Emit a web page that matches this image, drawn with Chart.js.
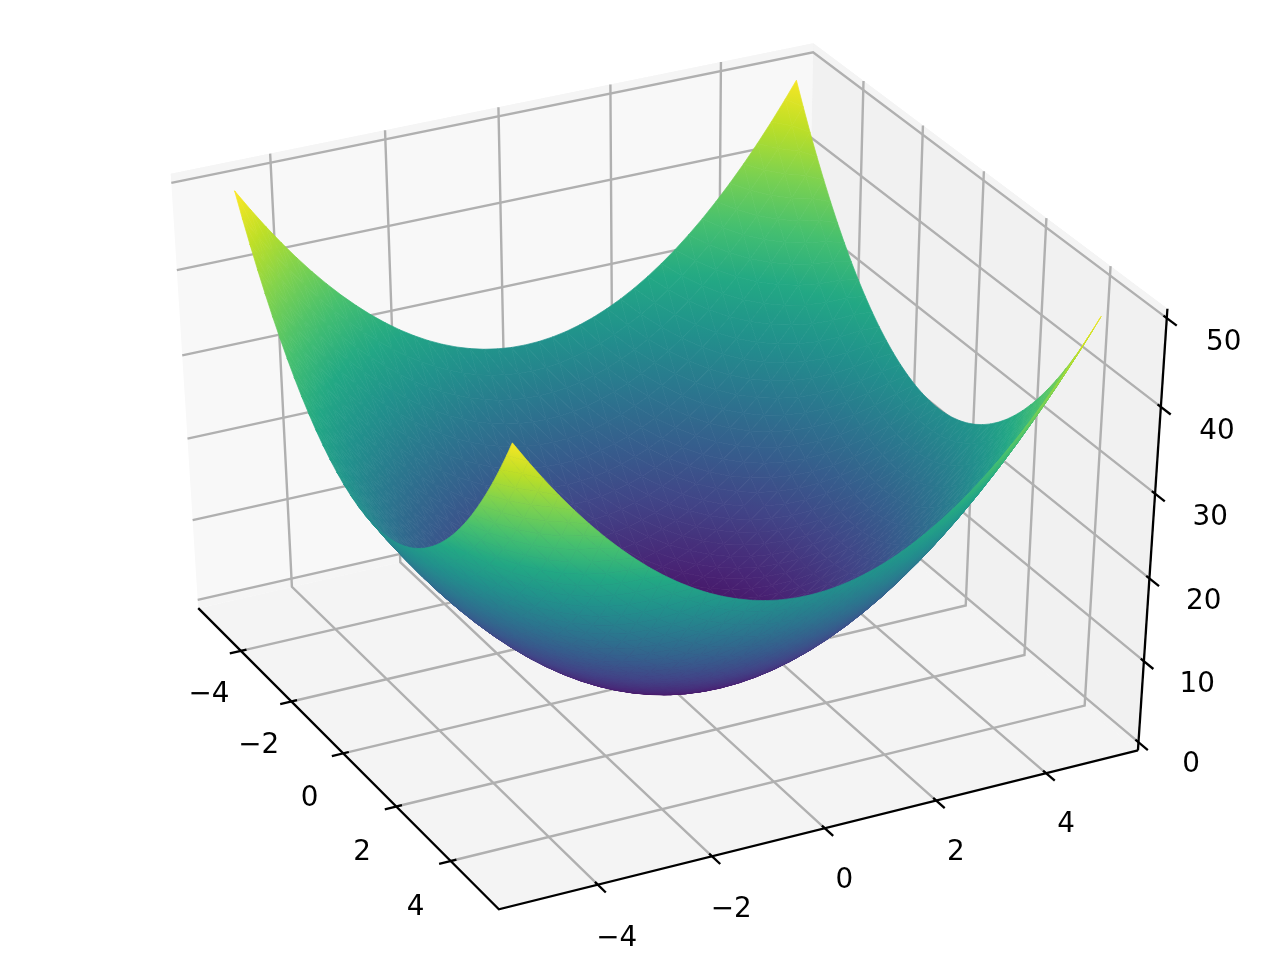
<!DOCTYPE html>
<html>
<head>
<meta charset="utf-8">
<title>Surface</title>
<script src="https://cdn.jsdelivr.net/npm/chart.js@4/dist/chart.umd.js"></script>
<style>
  html, body { margin: 0; padding: 0; background: #fff; }
  canvas { display: block; }
</style>
</head>
<body>
<canvas id="surface" width="1280" height="960"></canvas>
<script>
// sample positions of the surface on both ground axes
const gridX = [-5, -4.75, -4.5, -4.25, -4, -3.75, -3.5, -3.25, -3, -2.75, -2.5, -2.25, -2, -1.75, -1.5, -1.25, -1, -0.75, -0.5, -0.25, 0, 0.25, 0.5, 0.75, 1, 1.25, 1.5, 1.75, 2, 2.25, 2.5, 2.75, 3, 3.25, 3.5, 3.75, 4, 4.25, 4.5, 4.75, 4.95];
const gridY = [-5, -4.75, -4.5, -4.25, -4, -3.75, -3.5, -3.25, -3, -2.75, -2.5, -2.25, -2, -1.75, -1.5, -1.25, -1, -0.75, -0.5, -0.25, 0, 0.25, 0.5, 0.75, 1, 1.25, 1.5, 1.75, 2, 2.25, 2.5, 2.75, 3, 3.25, 3.5, 3.75, 4, 4.25, 4.5, 4.75, 4.95];

// the bowl is mirror symmetric, so heights are kept for one quadrant: |x| by row, |y| by column
const quadrantAxis = [0, 0.25, 0.5, 0.75, 1, 1.25, 1.5, 1.75, 2, 2.25, 2.5, 2.75, 3, 3.25, 3.5, 3.75, 4, 4.25, 4.5, 4.75, 4.95, 5];
const quadrantZ = [
    [0, 0.06, 0.25, 0.56, 1, 1.56, 2.25, 3.06, 4, 5.06, 6.25, 7.56, 9, 10.56, 12.25, 14.06, 16, 18.06, 20.25, 22.56, 24.5, 25],
    [0.06, 0.12, 0.31, 0.62, 1.06, 1.62, 2.31, 3.12, 4.06, 5.12, 6.31, 7.62, 9.06, 10.62, 12.31, 14.12, 16.06, 18.12, 20.31, 22.62, 24.56, 25.06],
    [0.25, 0.31, 0.5, 0.81, 1.25, 1.81, 2.5, 3.31, 4.25, 5.31, 6.5, 7.81, 9.25, 10.81, 12.5, 14.31, 16.25, 18.31, 20.5, 22.81, 24.75, 25.25],
    [0.56, 0.62, 0.81, 1.12, 1.56, 2.12, 2.81, 3.62, 4.56, 5.62, 6.81, 8.12, 9.56, 11.12, 12.81, 14.62, 16.56, 18.62, 20.81, 23.12, 25.06, 25.56],
    [1, 1.06, 1.25, 1.56, 2, 2.56, 3.25, 4.06, 5, 6.06, 7.25, 8.56, 10, 11.56, 13.25, 15.06, 17, 19.06, 21.25, 23.56, 25.5, 26],
    [1.56, 1.62, 1.81, 2.12, 2.56, 3.12, 3.81, 4.62, 5.56, 6.62, 7.81, 9.12, 10.56, 12.12, 13.81, 15.62, 17.56, 19.62, 21.81, 24.12, 26.06, 26.56],
    [2.25, 2.31, 2.5, 2.81, 3.25, 3.81, 4.5, 5.31, 6.25, 7.31, 8.5, 9.81, 11.25, 12.81, 14.5, 16.31, 18.25, 20.31, 22.5, 24.81, 26.75, 27.25],
    [3.06, 3.12, 3.31, 3.62, 4.06, 4.62, 5.31, 6.12, 7.06, 8.12, 9.31, 10.62, 12.06, 13.62, 15.31, 17.12, 19.06, 21.12, 23.31, 25.62, 27.56, 28.06],
    [4, 4.06, 4.25, 4.56, 5, 5.56, 6.25, 7.06, 8, 9.06, 10.25, 11.56, 13, 14.56, 16.25, 18.06, 20, 22.06, 24.25, 26.56, 28.5, 29],
    [5.06, 5.12, 5.31, 5.62, 6.06, 6.62, 7.31, 8.12, 9.06, 10.12, 11.31, 12.62, 14.06, 15.62, 17.31, 19.12, 21.06, 23.12, 25.31, 27.62, 29.56, 30.06],
    [6.25, 6.31, 6.5, 6.81, 7.25, 7.81, 8.5, 9.31, 10.25, 11.31, 12.5, 13.81, 15.25, 16.81, 18.5, 20.31, 22.25, 24.31, 26.5, 28.81, 30.75, 31.25],
    [7.56, 7.62, 7.81, 8.12, 8.56, 9.12, 9.81, 10.62, 11.56, 12.62, 13.81, 15.12, 16.56, 18.12, 19.81, 21.62, 23.56, 25.62, 27.81, 30.12, 32.06, 32.56],
    [9, 9.06, 9.25, 9.56, 10, 10.56, 11.25, 12.06, 13, 14.06, 15.25, 16.56, 18, 19.56, 21.25, 23.06, 25, 27.06, 29.25, 31.56, 33.5, 34],
    [10.56, 10.62, 10.81, 11.12, 11.56, 12.12, 12.81, 13.62, 14.56, 15.62, 16.81, 18.12, 19.56, 21.12, 22.81, 24.62, 26.56, 28.62, 30.81, 33.12, 35.06, 35.56],
    [12.25, 12.31, 12.5, 12.81, 13.25, 13.81, 14.5, 15.31, 16.25, 17.31, 18.5, 19.81, 21.25, 22.81, 24.5, 26.31, 28.25, 30.31, 32.5, 34.81, 36.75, 37.25],
    [14.06, 14.12, 14.31, 14.62, 15.06, 15.62, 16.31, 17.12, 18.06, 19.12, 20.31, 21.62, 23.06, 24.62, 26.31, 28.12, 30.06, 32.12, 34.31, 36.62, 38.56, 39.06],
    [16, 16.06, 16.25, 16.56, 17, 17.56, 18.25, 19.06, 20, 21.06, 22.25, 23.56, 25, 26.56, 28.25, 30.06, 32, 34.06, 36.25, 38.56, 40.5, 41],
    [18.06, 18.12, 18.31, 18.62, 19.06, 19.62, 20.31, 21.12, 22.06, 23.12, 24.31, 25.62, 27.06, 28.62, 30.31, 32.12, 34.06, 36.12, 38.31, 40.62, 42.56, 43.06],
    [20.25, 20.31, 20.5, 20.81, 21.25, 21.81, 22.5, 23.31, 24.25, 25.31, 26.5, 27.81, 29.25, 30.81, 32.5, 34.31, 36.25, 38.31, 40.5, 42.81, 44.75, 45.25],
    [22.56, 22.62, 22.81, 23.12, 23.56, 24.12, 24.81, 25.62, 26.56, 27.62, 28.81, 30.12, 31.56, 33.12, 34.81, 36.62, 38.56, 40.62, 42.81, 45.12, 47.06, 47.56],
    [24.5, 24.56, 24.75, 25.06, 25.5, 26.06, 26.75, 27.56, 28.5, 29.56, 30.75, 32.06, 33.5, 35.06, 36.75, 38.56, 40.5, 42.56, 44.75, 47.06, 49, 49.5],
    [25, 25.06, 25.25, 25.56, 26, 26.56, 27.25, 28.06, 29, 30.06, 31.25, 32.56, 34, 35.56, 37.25, 39.06, 41, 43.06, 45.25, 47.56, 49.5, 50]
];

const xTicks = [-4, -2, 0, 2, 4];
const yTicks = [-4, -2, 0, 2, 4];
const zTicks = [0, 10, 20, 30, 40, 50];
const xTickLabels = ['\u22124', '\u22122', '0', '2', '4'];
const yTickLabels = ['\u22124', '\u22122', '0', '2', '4'];
const zTickLabels = ['0', '10', '20', '30', '40', '50'];

// axis limits
const xLim = [-5.73, 5.73];
const yLim = [-5.71, 5.69];
const zLim = [-1.04, 51.04];

// camera
const elev = 36 * Math.PI / 180;
const azim = -27 * Math.PI / 180;
const dist = 10;
const scaleX = 7190, scaleY = 5410, centerX = 660, centerY = 465.5;
const surfaceNudgeY = 0.05; // the bowl sits a touch off the tick positions in the picture

const viridis = ['#440154', '#482475', '#414487', '#355f8d', '#2a788e', '#21918c', '#22a884', '#44bf70', '#7ad151', '#bddf26', '#fde725'];

const n = [Math.cos(elev) * Math.cos(azim), Math.cos(elev) * Math.sin(azim), Math.sin(elev)];
const nLen = Math.hypot(n[0], n[1]);
const u = [-n[1] / nLen, n[0] / nLen, 0];
const v = [n[1] * u[2] - n[2] * u[1], n[2] * u[0] - n[0] * u[2], n[0] * u[1] - n[1] * u[0]];

// 3d data position -> screen scale values plus depth
function project(x, y, z) {
    const d = [
        (x - xLim[0]) / (xLim[1] - xLim[0]) - 0.5,
        (y - yLim[0]) / (yLim[1] - yLim[0]) - 0.5,
        (z - zLim[0]) / (zLim[1] - zLim[0]) - 0.5
    ];
    const w = dist - (n[0] * d[0] + n[1] * d[1] + n[2] * d[2]);
    return {
        x: centerX + scaleX * (u[0] * d[0] + u[1] * d[1] + u[2] * d[2]) / w,
        y: centerY - scaleY * (v[0] * d[0] + v[1] * d[1] + v[2] * d[2]) / w,
        depth: w
    };
}

function heightAt(x, y) {
    return quadrantZ[quadrantAxis.indexOf(Math.abs(x))][quadrantAxis.indexOf(Math.abs(y))];
}

function colorAt(z) {
    const t = Math.max(0, Math.min(1, z / 50)) * (viridis.length - 1);
    const i = Math.min(Math.floor(t), viridis.length - 2);
    const f = t - i;
    const a = parseInt(viridis[i].slice(1), 16), b = parseInt(viridis[i + 1].slice(1), 16);
    const mix = s => Math.round(((a >> s) & 255) * (1 - f) + ((b >> s) & 255) * f);
    return `rgb(${mix(16)},${mix(8)},${mix(0)})`;
}

const ctx = document.getElementById('surface').getContext('2d');
const datasets = [];

function addPolygon(points, color) {
    datasets.push({ data: [...points, points[0]], showLine: true, fill: 'shape', backgroundColor: color, borderWidth: 0, pointRadius: 0 });
}
function addLine(points, color, width) {
    datasets.push({ data: points, showLine: true, fill: false, borderColor: color, borderWidth: width, pointRadius: 0, borderCapStyle: 'butt' });
}

// panes, with the slightly different strip beyond the first and last z tick
const [x0, x1] = xLim, [y0, y1] = yLim, [z0, z1] = zLim;
addPolygon([project(x0, y0, z0), project(x0, y1, z0), project(x0, y1, z1), project(x0, y0, z1)], '#f8f8f8');
addPolygon([project(x0, y1, z0), project(x1, y1, z0), project(x1, y1, z1), project(x0, y1, z1)], '#f1f1f1');
addPolygon([project(x0, y0, z0), project(x1, y0, z0), project(x1, y1, z0), project(x0, y1, z0)], '#f4f4f4');
[[50, z1], [z0, 0]].forEach(b => {
    addPolygon([project(x0, y0, b[0]), project(x0, y1, b[0]), project(x0, y1, b[1]), project(x0, y0, b[1])], '#f5f5f5');
    addPolygon([project(x0, y1, b[0]), project(x1, y1, b[0]), project(x1, y1, b[1]), project(x0, y1, b[1])], '#f4f4f4');
});

// grid
const gridColor = '#b0b0b0';
const gridWidth = 2.4;
xTicks.forEach(t => addLine([project(t, y0, z0), project(t, y1, z0), project(t, y1, z1)], gridColor, gridWidth));
yTicks.forEach(t => addLine([project(x1, t, z0), project(x0, t, z0), project(x0, t, z1)], gridColor, gridWidth));
zTicks.forEach(t => addLine([project(x0, y0, t), project(x0, y1, t), project(x1, y1, t)], gridColor, gridWidth));

// axis lines and tick marks
addLine([project(x0, y0, z0), project(x1, y0, z0), project(x1, y1, z0)], '#000', 2.3);
addLine([project(x1, y1, z0), project(x1, y1, z1)], '#000', 2.3);
xTicks.forEach(t => addLine([project(t, y0 + 0.1, z0), project(t, y0 - 0.2, z0)], '#000', 2.3));
yTicks.forEach(t => addLine([project(x1 - 0.1, t, z0), project(x1 + 0.28, t, z0)], '#000', 2.3));
zTicks.forEach(t => addLine([project(x1 - 0.1, y1, t), project(x1 + 0.3, y1, t)], '#000', 2.3));

// surface split in triangles, far ones first
const tris = [];
for (let i = 0; i < gridX.length - 1; i++) {
    for (let j = 0; j < gridY.length - 1; j++) {
        const corners = [[gridX[i], gridY[j]], [gridX[i + 1], gridY[j]], [gridX[i + 1], gridY[j + 1]], [gridX[i], gridY[j + 1]]];
        const zs = corners.map(c => heightAt(c[0], c[1]));
        const pts = corners.map((c, k) => project(c[0], c[1] + surfaceNudgeY, zs[k]));
        [[0, 1, 2], [0, 2, 3]].forEach(idx => {
            const tp = idx.map(k => pts[k]);
            tris.push({ zs: idx.map(k => zs[k]), pts: tp, depth: (tp[0].depth + tp[1].depth + tp[2].depth) / 3 });
        });
    }
}
tris.sort((a, b) => b.depth - a.depth);

// colour runs across a triangle along its height slope on screen
function triPaint(tri) {
    const { zs, pts } = tri;
    const zMean = (zs[0] + zs[1] + zs[2]) / 3;
    const ax = pts[1].x - pts[0].x, ay = pts[1].y - pts[0].y, az = zs[1] - zs[0];
    const bx = pts[2].x - pts[0].x, by = pts[2].y - pts[0].y, bz = zs[2] - zs[0];
    const det = ax * by - ay * bx;
    if (Math.abs(det) < 0.5) return colorAt(zMean);
    const gx = (az * by - bz * ay) / det, gy = (ax * bz - bx * az) / det;
    const g2 = gx * gx + gy * gy;
    if (g2 < 1e-9) return colorAt(zMean);
    const zMin = Math.min(...zs), zMax = Math.max(...zs);
    const grad = ctx.createLinearGradient(
        pts[0].x + gx * (zMin - zs[0]) / g2, pts[0].y + gy * (zMin - zs[0]) / g2,
        pts[0].x + gx * (zMax - zs[0]) / g2, pts[0].y + gy * (zMax - zs[0]) / g2
    );
    grad.addColorStop(0, colorAt(zMin));
    grad.addColorStop(0.5, colorAt((zMin + zMax) / 2));
    grad.addColorStop(1, colorAt(zMax));
    return grad;
}

tris.forEach(tri => {
    const paint = triPaint(tri);
    datasets.push({
        data: [...tri.pts, tri.pts[0]], showLine: true, fill: 'shape',
        backgroundColor: paint, borderColor: paint, borderWidth: 0.7, pointRadius: 0
    });
});

// later entries sit on top
datasets.forEach((d, i) => { d.order = -i; });

// label offsets from each tick, first and last tick of the axis
const labelSets = [
    { ticks: xTicks, labels: xTickLabels, at: t => project(t, y0, z0), from: [-32, 44], to: [-35, 47] },
    { ticks: yTicks, labels: yTickLabels, at: t => project(x1, t, z0), from: [19, 54], to: [20, 51] },
    { ticks: zTicks, labels: zTickLabels, at: t => project(x1, y1, t), from: [52.5, 23], to: [57, 25] }
];

const tickText = {
    id: 'tickText',
    afterDatasetsDraw(chart) {
        const c = chart.ctx;
        c.save();
        c.fillStyle = '#000';
        c.font = '27.8px "DejaVu Sans"';
        c.textAlign = 'center';
        c.textBaseline = 'middle';
        labelSets.forEach(set => {
            set.ticks.forEach((t, i) => {
                const p = set.at(t);
                const f = i / (set.ticks.length - 1);
                const px = chart.scales.x.getPixelForValue(p.x) + set.from[0] + (set.to[0] - set.from[0]) * f;
                const py = chart.scales.y.getPixelForValue(p.y) + set.from[1] + (set.to[1] - set.from[1]) * f;
                c.fillText(set.labels[i], px, py);
            });
        });
        c.restore();
    }
};

new Chart(ctx, {
    type: 'scatter',
    data: { datasets },
    plugins: [tickText],
    options: {
        responsive: false,
        devicePixelRatio: 1,
        animation: false,
        events: [],
        layout: { padding: 0 },
        plugins: { legend: { display: false }, tooltip: { enabled: false } },
        scales: {
            x: { type: 'linear', display: false, min: 0, max: 1280 },
            y: { type: 'linear', display: false, min: 0, max: 960, reverse: true }
        }
    }
});
</script>
</body>
</html>
